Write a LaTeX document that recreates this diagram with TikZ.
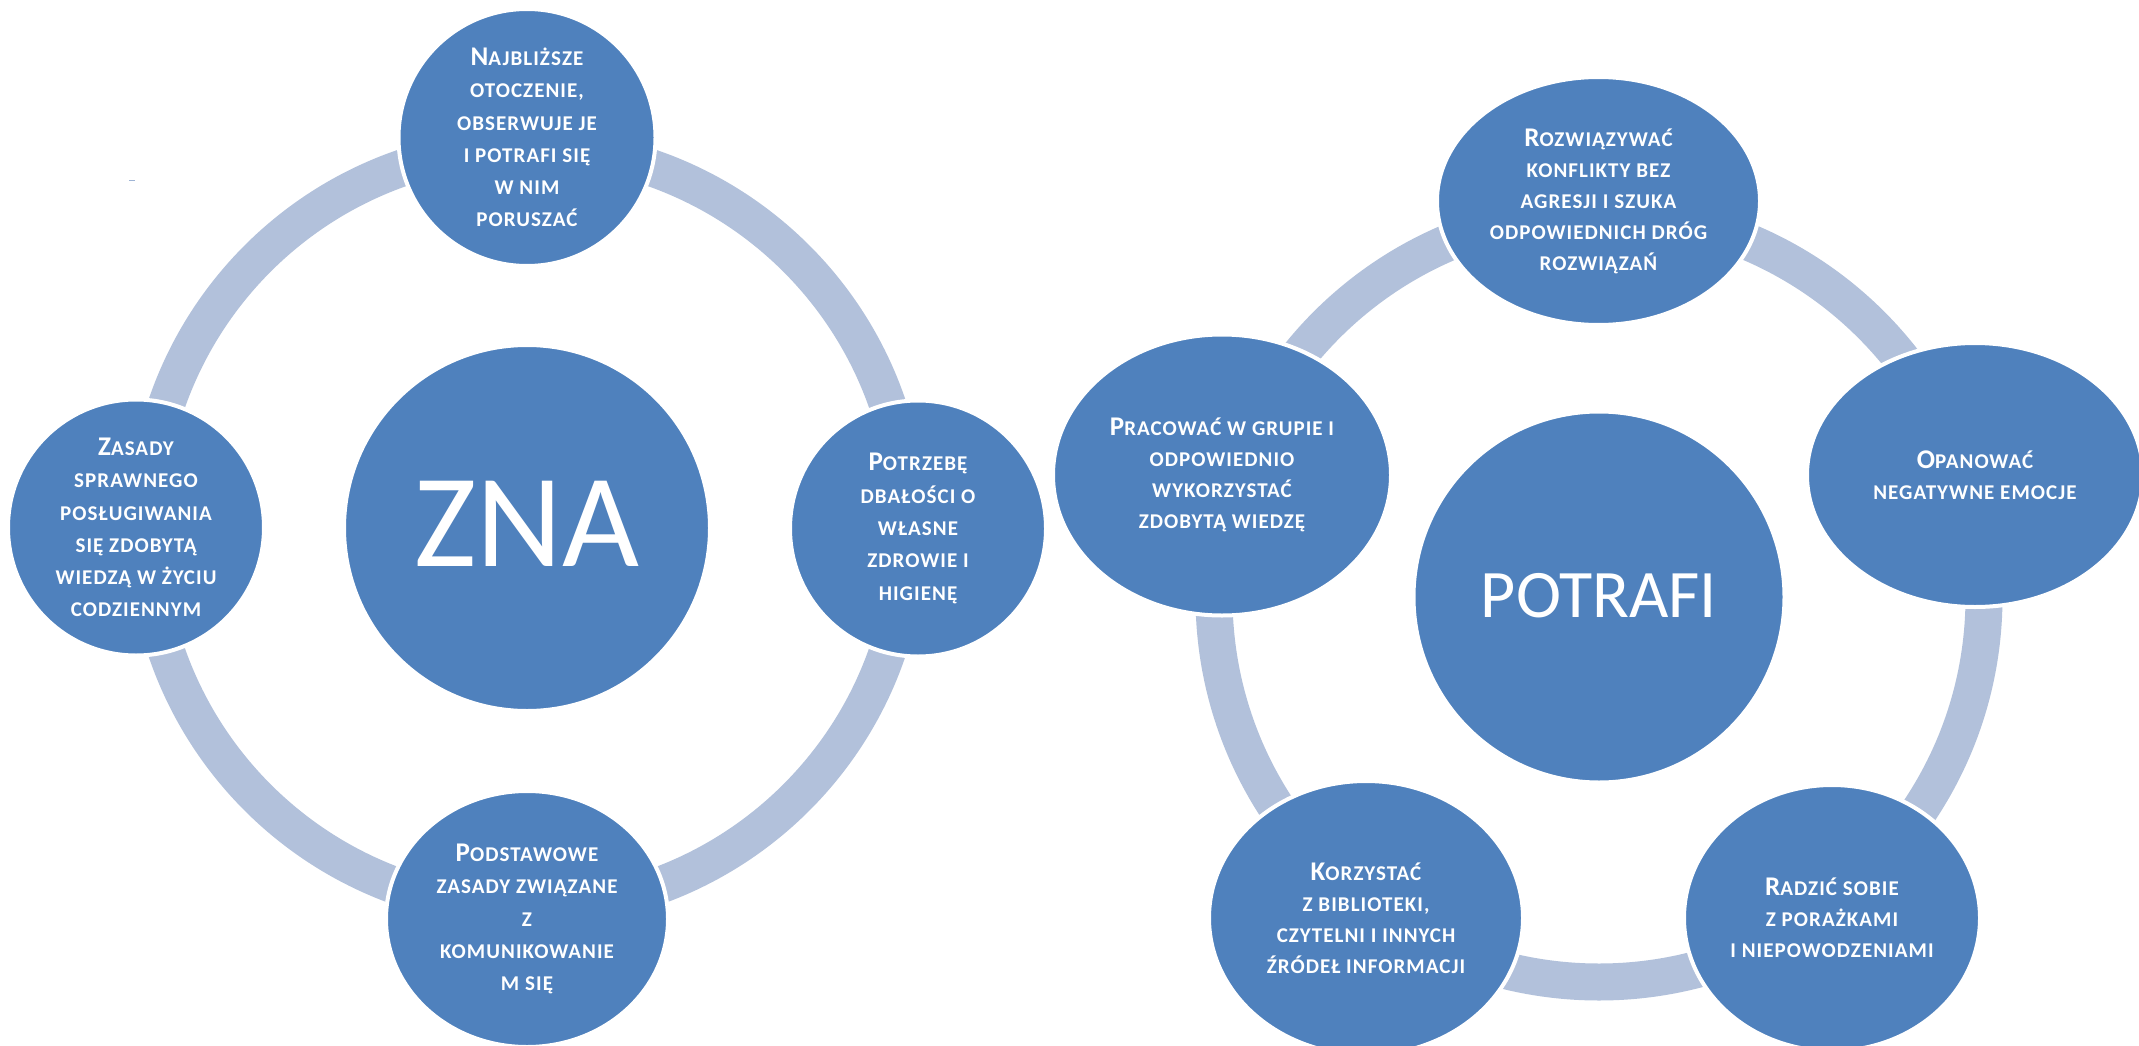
\documentclass[tikz,border=0pt]{standalone}
\usepackage{fontspec}
\setmainfont{Carlito}
\newfontfamily\scfont{Carlito}[LetterSpace=5]
\usetikzlibrary{shapes.geometric}
\definecolor{blobc}{RGB}{79,129,189}
\definecolor{ringc}{RGB}{178,193,219}
\newcommand\bigc[1]{{\fontsize{27}{32.3}\selectfont #1}}
\begin{document}
\begin{tikzpicture}[x=1pt,y=-1pt,
  blob/.style={fill=blobc, draw=white, line width=4pt, inner sep=0pt, outer sep=0pt,
    text=white, align=center, font=\scfont\bfseries\fontsize{21}{32.3}\selectfont},
  roundblob/.style={blob, circle, minimum size=#1},
  ovalblob/.style 2 args={blob, ellipse, minimum width=#1, minimum height=#2},
  ovaltext/.style={font=\scfont\bfseries\fontsize{21}{31}\selectfont},
  ring/.style={draw=ringc, line width=37pt},
  bigtext/.style={text=white, inner sep=0pt, font=\fontsize{#1}{#1}\selectfont}
]
\useasboundingbox (0,0) rectangle (2139,1046);
\fill[white] (0,0) rectangle (2139,1046);

% ---------- ZNA ----------
\node[roundblob=366] (zna) at (527,528) {};
\draw[ring] (zna.center) circle[radius=381pt];
\node[bigtext=133] (znat) at (527,524) {ZNA};

\node[roundblob=257] (z1) at (527,137.5) {\bigc{N}AJBLIŻSZE\\OTOCZENIE,\\OBSERWUJE JE\\I POTRAFI SIĘ\\W NIM\\PORUSZAĆ};
\node[roundblob=256] (z2) at (918,528.5) {\bigc{P}OTRZEBĘ\\DBAŁOŚCI O\\WŁASNE\\ZDROWIE I\\HIGIENĘ};
\node[ovalblob={282}{256}] (z3) at (527,919) {\bigc{P}ODSTAWOWE\\ZASADY ZWIĄZANE\\Z\\KOMUNIKOWANIE\\M SIĘ};
\node[roundblob=256] (z4) at (136,527.5) {\bigc{Z}ASADY\\SPRAWNEGO\\POSŁUGIWANIA\\SIĘ ZDOBYTĄ\\WIEDZĄ W ŻYCIU\\CODZIENNYM};

\coordinate (dashA) at (129,180);
\coordinate (dashB) at (135,180);
\draw[ringc!80!blobc, line width=0.8pt] (dashA) -- (dashB);

% ---------- POTRAFI ----------
\node[roundblob=371] (pot) at (1599,597) {};
\draw[ring] (pot.center) circle[radius=385pt];
\node[bigtext=68] (pott) at (1599,596) {POTRAFI};

\node[ovalblob={323}{248}, ovaltext] (p1) at (1598.5,201) {\bigc{R}OZWIĄZYWAĆ\\KONFLIKTY BEZ\\AGRESJI I SZUKA\\ODPOWIEDNICH DRÓG\\ROZWIĄZAŃ};
\node[ovalblob={336}{264}, ovaltext] (p2) at (1975,475) {\bigc{O}PANOWAĆ\\NEGATYWNE EMOCJE};
\node[ovalblob={296}{266}, ovaltext] (p3) at (1832,918) {\bigc{R}ADZIĆ SOBIE\\Z PORAŻKAMI\\I NIEPOWODZENIAMI};
\node[ovalblob={314}{274}, ovaltext] (p4) at (1366,918) {\bigc{K}ORZYSTAĆ\\Z BIBLIOTEKI,\\CZYTELNI I INNYCH\\ŹRÓDEŁ INFORMACJI};
\node[ovalblob={338}{281}, ovaltext] (p5) at (1222,475) {\bigc{P}RACOWAĆ W GRUPIE I\\ODPOWIEDNIO\\WYKORZYSTAĆ\\ZDOBYTĄ WIEDZĘ};
\end{tikzpicture}
\end{document}
